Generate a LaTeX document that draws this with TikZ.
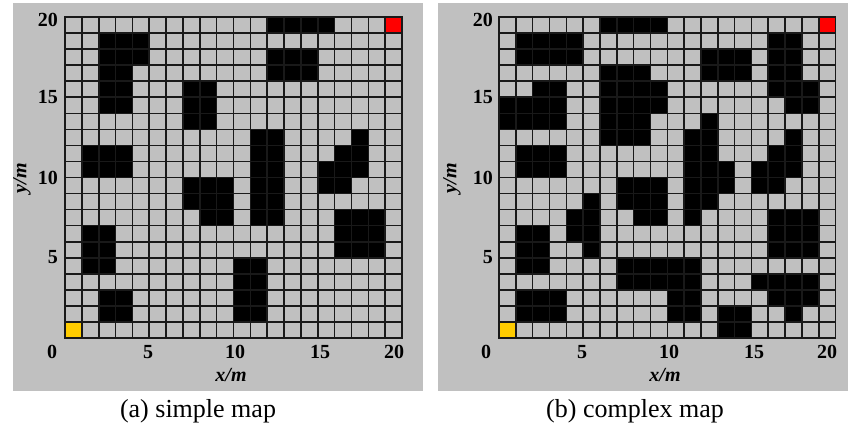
\documentclass[tikz,border=0pt]{standalone}
\usepackage{fontspec}
\setmainfont{Liberation Serif}
\definecolor{panelgray}{RGB}{192,192,192}
\definecolor{gridcol}{RGB}{25,25,25}
\definecolor{startyel}{RGB}{255,204,0}
\definecolor{goalred}{RGB}{255,0,0}
\tikzset{
  panel/.style={fill=panelgray, draw=none},
  obst/.style={fill=black},
  gridline/.style={draw=gridcol, line width=1.6pt, line cap=rect},
  startcell/.style={fill=startyel},
  goalcell/.style={fill=goalred},
  ticklab/.style={font=\fontsize{20}{20}\selectfont\bfseries, inner sep=0pt},
  axlab/.style={font=\fontsize{20}{20}\selectfont\bfseries\itshape, inner sep=0pt},
  captext/.style={font=\fontsize{26}{26}\selectfont, inner sep=0pt},
}
\begin{document}
\begin{tikzpicture}[x=1pt,y=-1pt]
\useasboundingbox (0,0) rectangle (851,432);
\fill[white] (0,0) rectangle (851,432);
% panels
\fill[panel] (13,3) rectangle (423,391);
\fill[panel] (438,3) rectangle (848,391);

% ---------- map (a) ----------
\begin{scope}[shift={(65pt,-338pt)}, x=16.85pt, y=16.05pt]
  \foreach \a/\b/\c/\d in {12/19/16/20, 2/17/5/19, 2/14/4/19, 12/16/15/18,
      7/13/9/16, 1/10/4/12, 11/7/13/13, 17/10/18/13, 16/10/18/12, 15/9/17/11,
      7/8/10/10, 8/7/10/8, 16/5/19/8, 1/4/3/7, 10/1/12/5, 2/1/4/3}
    \fill[obst] (\a,\b) rectangle (\c,\d);
  \fill[startcell] (0,0) rectangle (1,1);
  \fill[goalcell] (19,19) rectangle (20,20);
  \foreach \i in {0,...,20} {
    \draw[gridline] (\i,0) -- (\i,20);
    \draw[gridline] (0,\i) -- (20,\i);
  }
\end{scope}
\node[ticklab, anchor=east] (ay20) at (58,19.5) {20};
\node[ticklab, anchor=east] (ay15) at (58,97) {15};
\node[ticklab, anchor=east] (ay10) at (58,177.5) {10};
\node[ticklab, anchor=east] (ay5)  at (58,257.5) {5};
\node[ticklab] (ax0)  at (52,352) {0};
\node[ticklab] (ax5)  at (148,352) {5};
\node[ticklab] (ax10) at (235,352) {10};
\node[ticklab] (ax15) at (320,352) {15};
\node[ticklab] (ax20) at (394,352) {20};
\node[axlab] (axlabx) at (231,375) {x/m};
\node[axlab, rotate=90] (axlaby) at (22,178) {y/m};
\node[captext] (capa) at (198,411) {(a) simple map};

% ---------- map (b) ----------
\begin{scope}[shift={(499pt,-338pt)}, x=16.83pt, y=16.05pt]
  \foreach \a/\b/\c/\d in {6/19/10/20, 1/17/5/19, 6/12/9/17, 9/14/10/16,
      2/15/4/16, 0/13/4/15, 12/16/15/18, 16/15/18/19, 17/14/19/16,
      12/8/13/14, 11/7/12/13, 13/9/14/11, 17/10/18/13, 16/9/17/12, 15/9/16/11,
      1/10/4/12, 7/8/10/10, 8/7/10/8, 5/5/6/9, 4/6/5/8, 1/4/3/7, 16/5/19/8,
      7/3/12/5, 10/1/12/3, 1/1/4/3, 13/0/15/2, 15/3/19/4, 16/2/19/3, 17/1/18/2}
    \fill[obst] (\a,\b) rectangle (\c,\d);
  \fill[startcell] (0,0) rectangle (1,1);
  \fill[goalcell] (19,19) rectangle (20,20);
  \foreach \i in {0,...,20} {
    \draw[gridline] (\i,0) -- (\i,20);
    \draw[gridline] (0,\i) -- (20,\i);
  }
\end{scope}
\node[ticklab, anchor=east] (by20) at (493,19.5) {20};
\node[ticklab, anchor=east] (by15) at (493,97) {15};
\node[ticklab, anchor=east] (by10) at (493,177.5) {10};
\node[ticklab, anchor=east] (by5)  at (493,257.5) {5};
\node[ticklab] (bx0)  at (486,352) {0};
\node[ticklab] (bx5)  at (582,352) {5};
\node[ticklab] (bx10) at (669,352) {10};
\node[ticklab] (bx15) at (754,352) {15};
\node[ticklab] (bx20) at (827,352) {20};
\node[axlab] (bxlabx) at (665,375) {x/m};
\node[axlab, rotate=90] (bxlaby) at (452,178) {y/m};
\node[captext] (capb) at (635,411) {(b) complex map};
\end{tikzpicture}
\end{document}
